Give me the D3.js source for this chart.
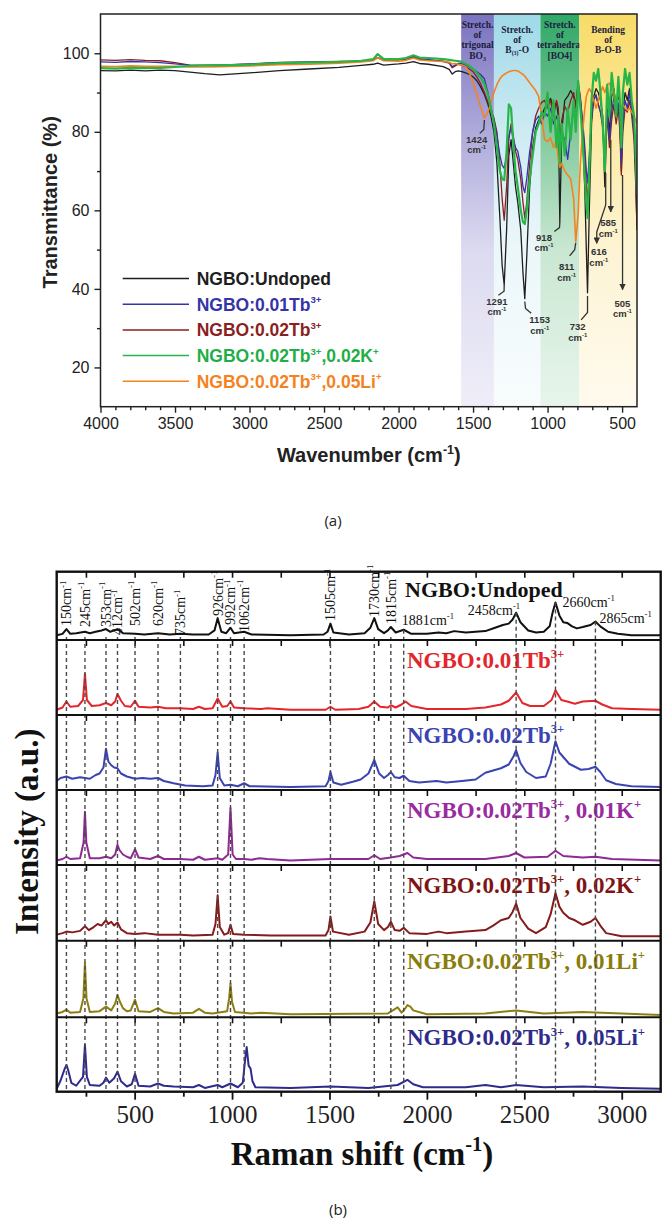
<!DOCTYPE html>
<html>
<head>
<meta charset="utf-8">
<script src="https://cdn.jsdelivr.net/npm/d3@7"></script>
<style>
  body { margin: 0; background: #fff; }
  svg { display: block; }
</style>
</head>
<body>
<div id="root"></div>
<script>
// ---------- panel (a): FTIR data ----------
const ftirWavenumbers = [
  4000, 3900, 3800, 3700, 3600, 3500, 3400, 3300, 3200, 3000, 2800, 2600, 2400, 2250, 2170, 2140, 2100,
  2000, 1950, 1900, 1860, 1800, 1700, 1660, 1640, 1620, 1600,
  1575, 1550, 1525, 1500, 1475, 1450, 1424, 1400, 1380, 1360, 1340, 1320, 1305, 1291, 1275, 1260, 1245,
  1230, 1215, 1200, 1180, 1165, 1153, 1140, 1120, 1100, 1080, 1060, 1040, 1020, 1000, 980, 960, 940, 928,
  918, 905, 885, 865, 845, 825, 811, 795, 780, 765, 750, 740, 732, 720, 705, 690, 675, 660, 645, 630, 616,
  600, 585, 570, 555, 540, 525, 515, 505, 495, 480, 465, 450, 435, 420, 410, 400,
];
const ftirUndoped = [
  95.6, 95.5, 95.7, 95.5, 95.7, 95.6, 95.2, 94.8, 94.5, 95.0, 95.6, 96.0, 96.4, 96.9, 97.2, 97.5, 97.0,
  97.3, 97.5, 97.9, 97.4, 97.2, 96.6, 95.9, 94.7, 95.3, 95.5,
  95.3, 95.0, 94.6, 94.0, 93.0, 91.5, 89.5, 87.0, 84.0, 80.0, 72, 58, 46, 41, 55, 74, 78,
  72, 66, 62, 55, 44, 37.5, 48, 66, 76, 81, 83, 84, 86, 87, 88.5, 86, 87.5, 84,
  57, 80, 88, 89, 90.5, 89, 87, 92, 88, 80, 65, 50, 39, 60, 82, 89, 91, 90, 88, 84, 66,
  86, 80, 89, 91, 86, 90, 84, 70, 85, 90, 88, 91, 87, 82, 70, 55,
];
const ftirTb001 = [
  97.8, 97.7, 97.9, 97.8, 97.6, 97.3, 96.9, 96.9, 97.0, 97.2, 97.6, 97.7, 97.8, 98.0, 98.3, 98.9, 98.2,
  98.3, 98.6, 99.3, 98.6, 98.4, 98.0, 97.6, 96.6, 97.0, 97.4,
  97.4, 97.0, 96.6, 96.0, 95.3, 94.6, 93.5, 90, 86, 83, 79, 74, 71.5, 70.7, 74, 79, 81,
  78, 76, 75, 71, 66, 64.5, 68, 75, 80, 83, 84, 82, 85, 84, 86, 82, 84, 82,
  79, 80, 78, 73, 80, 86, 84, 90, 88, 83, 76, 70, 67, 74, 84, 88, 89.5, 87, 85, 82, 74,
  85, 78, 85, 89, 84, 88, 82, 72, 82, 88, 86, 90, 85, 80, 72, 60,
];
const ftirTb002 = [
  98.3, 98.2, 98.4, 98.2, 98.1, 97.6, 97.0, 96.9, 97.0, 97.3, 97.7, 97.8, 97.9, 98.0, 98.3, 98.9, 98.3,
  98.3, 98.5, 99.0, 98.5, 98.3, 97.9, 97.5, 96.3, 96.8, 97.2,
  97.0, 96.5, 96.0, 95.3, 94.0, 92.3, 90.0, 87.5, 85.5, 83.5, 80, 72, 63, 57.5, 66, 78, 82,
  79, 75, 73, 68, 62, 58, 62, 72, 80, 84, 86, 87.5, 88, 86, 88, 84, 88, 86,
  78, 83, 86.5, 85, 88, 90, 86, 92.5, 89, 82, 74, 66, 62, 72, 85, 88.5, 89, 87, 85, 81, 72,
  84, 76, 83, 87, 82, 86, 80, 69, 80, 86, 85, 88, 84, 78, 68, 56,
];
const ftirTbK = [
  96.2, 96.1, 96.3, 96.2, 96.3, 96.5, 96.8, 96.9, 96.9, 97.1, 97.5, 97.6, 97.8, 98.1, 98.5, 99.8, 98.5,
  98.5, 98.8, 99.5, 98.9, 98.8, 98.5, 98.3, 98.2, 98.1, 98.0,
  97.8, 97.3, 96.8, 96.0, 95.0, 93.8, 92.2, 89.5, 86, 82, 76, 70, 68, 67.7, 75, 87, 86,
  77, 70, 66, 60, 57, 56.5, 60, 68, 74, 80, 82, 85, 84, 90, 80, 88, 76, 84,
  72, 82, 74, 86, 78, 88, 80, 93, 86, 78, 68, 62, 58, 70, 88, 95, 93, 96, 90, 82, 70,
  92, 84, 95, 90, 84, 94, 88, 76, 90, 96, 92, 95, 88, 84, 76, 64,
];
const ftirTbLi = [
  96.7, 96.6, 96.8, 96.7, 96.7, 96.7, 96.5, 96.5, 96.6, 96.8, 97.1, 97.2, 97.5, 97.8, 98.1, 98.9, 98.1,
  98.0, 98.2, 98.8, 98.3, 98.1, 97.9, 97.7, 97.3, 97.4, 97.2,
  97.0, 96.6, 95.0, 92.5, 89.5, 86.5, 83.5, 85, 87.5, 90, 92, 93.5, 94.2, 94.6, 95, 95.3, 95.5,
  95.6, 95.6, 95.5, 95, 94.6, 94.2, 93.5, 92.5, 91.5, 90.5, 89, 84, 78, 77.5, 78.5, 76, 78, 73,
  71, 72, 70, 69, 68, 63, 52, 59, 72, 80, 86, 89, 90, 91, 90, 88, 86, 88, 90, 91.5, 90,
  92, 92.4, 91, 89, 88, 88, 87, 86, 87, 86, 85.5, 86, 85, 84, 83, 82,
];
const ftirNames = [
  'NGBO:Undoped', 'NGBO:0.01Tb^{3+}', 'NGBO:0.02Tb^{3+}',
  'NGBO:0.02Tb^{3+},0.02K^{+}', 'NGBO:0.02Tb^{3+},0.05Li^{+}',
];
const ftirXTicks = [4000, 3500, 3000, 2500, 2000, 1500, 1000, 500];
const ftirYTicks = [20, 40, 60, 80, 100];
const bandEdges = [1580, 1360, 1048, 787, 400];
const bandTitles = [
  ['Stretch.', 'of', 'trigonal', 'BO_{3}'],
  ['Stretch.', 'of', 'B_{(3)}-O'],
  ['Stretch.', 'of', 'tetrahedral', '[BO4]'],
  ['Bending', 'of', 'B-O-B'],
];
const ftirPeaks = [1424, 1291, 1153, 918, 811, 732, 616, 585, 505];

// ---------- panel (b): Raman data ----------
const ramanNames = [
  'NGBO:Undoped', 'NGBO:0.01Tb^{3+}', 'NGBO:0.02Tb^{3+}', 'NGBO:0.02Tb^{3+}, 0.01K^{+}',
  'NGBO:0.02Tb^{3+}, 0.02K^{+}', 'NGBO:0.02Tb^{3+}, 0.01Li^{+}', 'NGBO:0.02Tb^{3+}, 0.05Li^{+}',
];
const ramanUndoped = [[100,7],[130,9],[150,16],[170,9],[200,10],[245,12],[270,10],[300,12],[330,14],[353,16],[375,12],[412,16],[440,10],[502,9],[550,8],[620,10],[680,8],[735,9],[800,8],[880,8],[910,14],[926,32],[945,12],[970,10],[992,18],[1010,10],[1062,12],[1100,8],[1300,7],[1470,8],[1490,12],[1505,24],[1520,11],[1600,8],[1680,10],[1710,18],[1730,32],[1750,16],[1780,10],[1800,14],[1815,19],[1840,11],[1881,15],[1920,9],[2000,9],[2060,11],[2100,10],[2140,13],[2200,11],[2300,13],[2350,18],[2390,22],[2420,24],[2440,30],[2458,40],[2480,26],[2520,14],[2560,11],[2600,12],[2630,20],[2645,40],[2660,55],[2680,36],[2700,26],[2720,25],[2745,20],[2770,17],[2800,19],[2840,22],[2865,27],[2890,20],[2930,12],[2980,9],[3050,7],[3200,7]];
const ramanTb001 = [[100,7],[130,10],[150,18],[170,11],[210,12],[235,20],[245,55],[255,20],[280,12],[320,13],[353,16],[380,13],[400,18],[412,28],[430,19],[450,12],[480,11],[502,19],[520,11],[580,10],[620,11],[660,9],[735,9],[800,8],[830,11],[860,8],[900,9],[926,22],[950,11],[975,12],[992,18],[1010,10],[1062,9],[1150,8],[1180,9],[1300,7],[1480,7],[1505,11],[1530,7],[1650,8],[1700,11],[1730,18],[1760,11],[1800,10],[1815,13],[1840,10],[1870,14],[1890,18],[1920,12],[2000,8],[2200,8],[2300,10],[2380,14],[2420,19],[2458,30],[2490,16],[2530,12],[2600,12],[2640,20],[2660,33],[2690,20],[2720,18],[2760,15],[2800,18],[2865,19],[2900,14],[2950,9],[3050,8],[3200,7]];
const ramanTb002 = [[100,12],[120,16],[150,18],[180,15],[220,17],[245,16],[270,15],[300,20],[320,22],[340,30],[353,55],[365,38],[380,33],[395,30],[412,29],[430,22],[460,18],[502,15],[540,16],[580,15],[620,16],[650,12],[700,9],[760,6],[850,5],[900,6],[915,20],[926,50],[937,16],[960,6],[992,7],[1030,5],[1062,9],[1090,5],[1300,4],[1480,5],[1495,12],[1505,24],[1520,10],[1560,7],[1620,11],[1660,14],[1700,22],[1730,40],[1755,22],[1780,16],[1800,20],[1815,24],[1835,17],[1860,16],[1881,19],[1910,12],[1960,10],[2050,12],[2100,10],[2180,12],[2250,14],[2300,23],[2340,26],[2380,29],[2420,34],[2445,45],[2458,53],[2480,36],[2510,24],[2560,16],[2610,18],[2635,35],[2660,65],[2680,50],[2700,44],[2730,35],[2760,31],[2790,27],[2830,28],[2865,31],[2890,24],[2920,13],[2970,8],[3050,5],[3200,4]];
const ramanTbK001 = [[100,6],[130,8],[150,11],[170,8],[220,9],[238,30],[245,71],[252,30],[270,9],[320,9],[353,11],[380,9],[400,14],[412,27],[422,20],[440,14],[460,11],[480,9],[502,21],[520,10],[580,8],[620,12],[650,8],[735,8],[800,7],[830,11],[860,7],[926,9],[950,7],[980,14],[992,76],[1003,14],[1020,8],[1062,8],[1100,7],[1140,9],[1180,8],[1300,6],[1505,8],[1700,8],[1730,13],[1760,8],[1815,10],[1860,12],[1900,16],[1930,10],[2000,8],[2300,8],[2420,12],[2458,16],[2500,10],[2620,11],[2660,19],[2700,12],[2800,10],[2865,11],[2950,8],[3200,6]];
const ramanTbK002 = [[100,8],[130,10],[150,12],[180,11],[220,13],[245,19],[265,14],[290,18],[310,22],[330,20],[353,27],[365,22],[380,25],[395,20],[412,24],[430,15],[460,10],[502,9],[550,10],[620,8],[700,8],[735,8],[800,7],[900,8],[915,22],[926,60],[937,18],[960,8],[980,10],[992,21],[1005,9],[1062,8],[1200,7],[1480,7],[1495,14],[1505,32],[1518,12],[1600,8],[1680,12],[1710,24],[1730,52],[1750,22],[1780,14],[1800,18],[1815,25],[1835,14],[1860,13],[1881,17],[1910,10],[2000,9],[2060,12],[2100,10],[2200,12],[2300,14],[2340,20],[2380,27],[2420,30],[2440,38],[2458,49],[2480,30],[2520,16],[2560,10],[2610,18],[2635,35],[2660,63],[2680,45],[2700,37],[2730,30],[2760,27],[2800,21],[2840,25],[2865,30],[2890,20],[2920,10],[3000,6],[3200,6]];
const ramanTbLi001 = [[100,5],[130,7],[150,10],[170,6],[220,7],[237,25],[245,71],[253,25],[270,7],[320,8],[353,14],[380,9],[400,18],[412,29],[425,20],[440,12],[460,8],[480,9],[502,23],[520,8],[580,7],[620,12],[650,7],[700,5],[800,6],[830,11],[860,6],[900,5],[975,8],[985,25],[992,44],[1000,20],[1015,7],[1100,5],[1150,6],[1300,4],[1800,5],[1850,13],[1870,6],[1890,12],[1900,16],[1915,14],[1930,9],[2000,4],[2300,5],[2458,9],[2600,5],[2800,7],[3200,3]];
const ramanTbLi005 = [[100,4],[120,15],[140,30],[150,36],[160,28],[175,12],[200,8],[235,20],[245,63],[255,20],[270,9],[320,8],[340,12],[353,19],[370,12],[395,18],[412,27],[430,14],[460,7],[485,10],[502,24],[520,8],[580,7],[620,11],[650,8],[700,7],[800,6],[830,9],[860,5],[926,9],[950,6],[992,11],[1030,6],[1055,12],[1068,45],[1075,60],[1085,35],[1095,31],[1105,14],[1120,6],[1300,5],[1505,7],[1700,5],[1850,9],[1900,16],[1930,10],[1980,6],[2200,6],[2300,9],[2380,6],[2458,9],[2600,6],[2800,7],[3000,5],[3200,4]];
const ramanPeaks = [150, 245, 353, 412, 502, 620, 735, 926, 992, 1062, 1505, 1730, 1815, 1881, 2458, 2660, 2865];
const ramanXTicks = [500, 1000, 1500, 2000, 2500, 3000];

// ---------- styling / layout ----------
const W = 663, H = 1222;
const sans = '"Liberation Sans", Arial, sans-serif';
const serif = '"Liberation Serif", "Times New Roman", serif';
const ftirColors = ['#1e1e1e', '#3434a8', '#8a1f1f', '#27b548', '#f5821f'];
const ftirWidths = [1.3, 1.3, 1.3, 2.2, 1.6];
const ftirDrawOrder = [0, 2, 1, 4, 3];
const bandStops = [
  [[0, '#7a73bf'], [0.3, '#aeaadb'], [0.6, '#dcdaf0'], [1, '#efeef8']],
  [[0, '#9fd9e7'], [0.3, '#cdebf3'], [0.6, '#ecf7fa'], [1, '#f8fcfd']],
  [[0, '#2fa866'], [0.3, '#82c99c'], [0.6, '#c9e7d2'], [1, '#e8f5ec']],
  [[0, '#f8db66'], [0.3, '#fbeaa3'], [0.6, '#fdf4d4'], [1, '#fffaee']],
];
// annotation layout (label anchor + leader path, in data units)
const ftirAnnotLayout = {
  1424: { at: [1476, 77.2], leader: [[1424, 83], [1428, 80.6], [1455, 79.6]] },
  1291: { at: [1340, 36.0], leader: [[1291, 41], [1292, 39.4], [1330, 38.4]] },
  1153: { at: [1053, 31.3], leader: [[1153, 36.8], [1148, 35], [1110, 33.8]] },
  918: { at: [1024, 52.2], leader: [[918, 57], [920, 55.6], [955, 54.6]] },
  811: { at: [872, 44.8], leader: [[811, 51.7], [818, 50], [852, 48.4]] },
  732: { at: [798, 29.5], leader: [[732, 38.2], [732, 34], [775, 32.1]] },
  616: { at: [656, 48.6], leader: [[610, 69.5], [610, 61.4], [670, 54.5], [670, 51.6]], arrow: true },
  585: { at: [593, 56.0], leader: [[576, 78], [576, 59.6]], arrow: true },
  505: { at: [498, 35.4], leader: [[497, 69], [497, 39.8]], arrow: true },
};
const ramanColors = ['#111111', '#e3262b', '#3a43b2', '#8f2a94', '#851b1b', '#8c7f10', '#2e2b8c'];
const ramanLabelColors = ['#111111', '#e3262b', '#3a43b2', '#9a2aa0', '#7f1414', '#8a7c0c', '#2e2b8c'];
const panelEdges = [571.7, 640, 715, 790, 865, 940.7, 1017.3, 1091.7];
const peakLabelLayout = {
  150: { rise: 14 }, 245: { rise: 13 }, 353: { rise: 13 }, 412: { rise: 5 }, 502: { rise: 14 },
  620: { rise: 14 }, 735: { rise: 5 }, 926: { rise: 24 }, 992: { rise: 15 }, 1062: { rise: 8 },
  1505: { rise: 19 }, 1730: { rise: 23 }, 1815: { rise: 16 },
  1881: { flat: true, dx: -2, rise: 15, anchor: 'start' },
  2458: { flat: true, dx: 4, rise: 25, anchor: 'end' },
  2660: { flat: true, dx: 7, rise: 33, anchor: 'start' },
  2865: { flat: true, dx: 4, rise: 17, anchor: 'start' },
};

// text with ^{sup} and _{sub}
function rich(sel, str, fs, k = 0.62) {
  const parts = str.split(/(\^\{[^}]*\}|_\{[^}]*\})/).filter(s => s);
  let shift = 0;
  parts.forEach(p => {
    let txt = p, dy = 0, size = null;
    if (p.startsWith('^{')) { txt = p.slice(2, -1); dy = -fs * 0.42; size = fs * k; }
    else if (p.startsWith('_{')) { txt = p.slice(2, -1); dy = fs * 0.22; size = fs * k; }
    const t = sel.append('tspan').text(txt);
    if (dy - shift) t.attr('dy', dy - shift);
    if (size) t.attr('font-size', size);
    shift = dy;
  });
  return sel;
}

const svg = d3.select('#root').append('svg')
  .attr('width', W)
  .attr('height', H);
const defs = svg.append('defs');

// =============== panel (a) ===============
const plotA = { left: 100.5, right: 637, top: 14, bottom: 406.7 };
const xA = d3.scaleLinear().domain([4000, 400]).range([plotA.left, plotA.right]);
const yA = d3.scaleLinear().domain([10, 110]).range([plotA.bottom, plotA.top]);

defs.append('clipPath').attr('id', 'clipA')
  .append('rect')
  .attr('x', plotA.left).attr('y', plotA.top)
  .attr('width', plotA.right - plotA.left).attr('height', plotA.bottom - plotA.top);

// absorption band shading
bandEdges.slice(0, -1).forEach((from, i) => {
  const to = bandEdges[i + 1];
  const grad = defs.append('linearGradient').attr('id', `band${i}`)
    .attr('x1', 0).attr('x2', 0).attr('y1', 0).attr('y2', 1);
  bandStops[i].forEach(([o, c]) => grad.append('stop').attr('offset', o).attr('stop-color', c));
  svg.append('rect')
    .attr('x', xA(from)).attr('y', plotA.top)
    .attr('width', xA(to) - xA(from)).attr('height', plotA.bottom - plotA.top)
    .attr('fill', `url(#band${i})`);
  const lines = bandTitles[i];
  const y0 = lines.length === 4 ? 28 : 33;
  lines.forEach((ln, j) => {
    rich(svg.append('text')
      .attr('x', (xA(from) + xA(to)) / 2)
      .attr('y', y0 + j * 10.2)
      .attr('text-anchor', 'middle')
      .attr('font-family', serif)
      .attr('font-weight', 'bold')
      .attr('font-size', 9.5)
      .attr('fill', '#1c1c40'), ln, 9.5);
  });
});

// spectra
const ftirSeries = [ftirUndoped, ftirTb001, ftirTb002, ftirTbK, ftirTbLi];
const lineA = d3.line()
  .x((d, i) => xA(ftirWavenumbers[i]))
  .y(d => yA(d));
const curvesA = svg.append('g').attr('clip-path', 'url(#clipA)');
ftirDrawOrder.forEach(k => {
  curvesA.append('path')
    .datum(ftirSeries[k])
    .attr('d', lineA)
    .attr('fill', 'none')
    .attr('stroke', ftirColors[k])
    .attr('stroke-width', ftirWidths[k])
    .attr('stroke-linejoin', 'round');
});

// peak annotations
defs.append('marker').attr('id', 'arrow')
  .attr('viewBox', '0 0 10 10').attr('refX', 9).attr('refY', 5)
  .attr('markerWidth', 5).attr('markerHeight', 5).attr('orient', 'auto')
  .append('path').attr('d', 'M0,0L10,5L0,10z').attr('fill', '#333');
const leaderLine = d3.line().x(d => xA(d[0])).y(d => yA(d[1]));
ftirPeaks.forEach(p => {
  const lay = ftirAnnotLayout[p];
  svg.append('path')
    .attr('d', leaderLine(lay.leader))
    .attr('fill', 'none')
    .attr('stroke', '#333')
    .attr('stroke-width', 1.3)
    .attr('marker-end', lay.arrow ? 'url(#arrow)' : null);
  [String(p), 'cm^{-1}'].forEach((ln, j) => {
    rich(svg.append('text')
      .attr('x', xA(lay.at[0]))
      .attr('y', yA(lay.at[1]) + j * 10.5)
      .attr('text-anchor', 'middle')
      .attr('font-family', sans)
      .attr('font-weight', 'bold')
      .attr('font-size', 9.5)
      .attr('fill', '#333'), ln, 9.5);
  });
});

// axes
function styleAxis(g, family, size) {
  g.select('.domain').remove();
  g.selectAll('.tick line').attr('stroke', '#222').attr('stroke-width', 1.4);
  g.selectAll('.tick text').attr('fill', '#222');
  g.attr('font-family', family).attr('font-size', size);
}
const minorX = d3.range(3900, 400, -100).filter(v => v % 500);
svg.append('g').attr('transform', `translate(0,${plotA.bottom})`)
  .call(d3.axisBottom(xA).tickValues(ftirXTicks).tickSize(6).tickPadding(5).tickFormat(d3.format('d')))
  .call(g => styleAxis(g, sans, 16));
svg.append('g').attr('transform', `translate(0,${plotA.bottom})`)
  .call(d3.axisBottom(xA).tickValues(minorX).tickSize(3.5).tickFormat(''))
  .call(g => styleAxis(g, sans, 16));
svg.append('g').attr('transform', `translate(${plotA.left},0)`)
  .call(d3.axisLeft(yA).tickValues(ftirYTicks).tickSize(6).tickPadding(5))
  .call(g => styleAxis(g, sans, 16));
svg.append('g').attr('transform', `translate(${plotA.left},0)`)
  .call(d3.axisLeft(yA).tickValues([30, 50, 70, 90]).tickSize(3.5).tickFormat(''))
  .call(g => styleAxis(g, sans, 16));
svg.append('rect')
  .attr('x', plotA.left).attr('y', plotA.top)
  .attr('width', plotA.right - plotA.left).attr('height', plotA.bottom - plotA.top)
  .attr('fill', 'none').attr('stroke', '#222').attr('stroke-width', 1.5);

svg.append('text')
  .attr('transform', `translate(57,${(plotA.top + plotA.bottom) / 2 - 8}) rotate(-90)`)
  .attr('text-anchor', 'middle')
  .attr('font-family', sans).attr('font-weight', 'bold').attr('font-size', 20)
  .attr('fill', '#222')
  .text('Transmittance (%)');
rich(svg.append('text')
  .attr('x', (plotA.left + plotA.right) / 2)
  .attr('y', 462)
  .attr('text-anchor', 'middle')
  .attr('font-family', sans).attr('font-weight', 'bold').attr('font-size', 20)
  .attr('fill', '#222'), 'Wavenumber (cm^{-1})', 20);

// legend
ftirNames.forEach((name, i) => {
  const cy = 278.5 + i * 25.7;
  svg.append('line')
    .attr('x1', 122.7).attr('x2', 189).attr('y1', cy).attr('y2', cy)
    .attr('stroke', ftirColors[i]).attr('stroke-width', 1.5);
  rich(svg.append('text')
    .attr('x', 196.7).attr('y', cy + 6.3)
    .attr('font-family', sans).attr('font-weight', 'bold').attr('font-size', 17.5)
    .attr('fill', ftirColors[i] === '#27b548' ? '#1fae45' : ftirColors[i]), name, 17.5, 0.55);
});

svg.append('text')
  .attr('x', 333).attr('y', 526)
  .attr('text-anchor', 'middle')
  .attr('font-family', '"Open Sans", sans-serif').attr('font-size', 15)
  .attr('fill', '#222')
  .text('(a)');

// =============== panel (b) ===============
const plotB = { left: 56.7, right: 660.7, top: panelEdges[0], bottom: panelEdges[7] };
const xB = d3.scaleLinear().domain([100, 3200]).range([plotB.left, plotB.right]);
const ramanSeries = [ramanUndoped, ramanTb001, ramanTb002, ramanTbK001, ramanTbK002, ramanTbLi001, ramanTbLi005];
const panelY = ramanSeries.map((s, i) => d3.scaleLinear().domain([0, 100]).range([panelEdges[i + 1], panelEdges[i]]));

// tick marks along the top of each stacked panel
const ramanAllTicks = d3.range(250, 3200, 250);
panelEdges.slice(0, 7).forEach(y => {
  svg.append('g').attr('transform', `translate(0,${y})`)
    .call(d3.axisBottom(xB).tickValues(ramanAllTicks).tickSize(6).tickFormat(''))
    .call(g => styleAxis(g, serif, 25))
    .selectAll('.tick line').attr('stroke', '#111').attr('stroke-width', 1.6);
});

// spectra + sample labels
ramanSeries.forEach((s, i) => {
  const y = panelY[i];
  svg.append('path')
    .datum(s)
    .attr('d', d3.line().x(d => xB(d[0])).y(d => y(d[1])))
    .attr('fill', 'none')
    .attr('stroke', ramanColors[i])
    .attr('stroke-width', 2)
    .attr('stroke-linejoin', 'round');
  const fs = i === 0 ? 22 : 23;
  rich(svg.append('text')
    .attr('x', i === 0 ? 405 : 407)
    .attr('y', panelEdges[i] + (i === 0 ? 25 : 28))
    .attr('font-family', serif).attr('font-weight', 'bold').attr('font-size', fs)
    .attr('fill', ramanLabelColors[i]), ramanNames[i], fs, 0.55);
});

// peak labels in the top panel
const p1Bottom = panelEdges[1];
ramanPeaks.forEach(p => {
  const lay = peakLabelLayout[p];
  const x = xB(p);
  const t = svg.append('text')
    .attr('font-family', serif).attr('font-size', 14).attr('fill', '#111');
  if (lay.flat) {
    t.attr('x', x + lay.dx).attr('y', p1Bottom - lay.rise).attr('text-anchor', lay.anchor);
  } else {
    t.attr('transform', `translate(${x + 5},${p1Bottom - lay.rise}) rotate(-90)`);
  }
  rich(t, `${p}cm^{-1}`, 14);
});

// dashed guide lines
ramanPeaks.forEach(p => {
  const lay = peakLabelLayout[p];
  const hit = ramanUndoped.find(d => d[0] === p);
  const y0 = lay.flat && hit ? panelY[0](hit[1]) : p1Bottom - 3;
  svg.append('line')
    .attr('x1', xB(p)).attr('x2', xB(p))
    .attr('y1', y0).attr('y2', plotB.bottom)
    .attr('stroke', '#4a4a4a').attr('stroke-width', 1.4)
    .attr('stroke-dasharray', '4,3');
});

// frame and dividers
panelEdges.slice(1, 7).forEach(y => {
  svg.append('line')
    .attr('x1', plotB.left).attr('x2', plotB.right).attr('y1', y).attr('y2', y)
    .attr('stroke', '#111').attr('stroke-width', 2);
});
svg.append('rect')
  .attr('x', plotB.left).attr('y', plotB.top)
  .attr('width', plotB.right - plotB.left).attr('height', plotB.bottom - plotB.top)
  .attr('fill', 'none').attr('stroke', '#111').attr('stroke-width', 2.4);

// bottom axis
svg.append('g').attr('transform', `translate(0,${plotB.bottom})`)
  .call(d3.axisBottom(xB).tickValues(ramanXTicks).tickSize(8).tickPadding(6).tickFormat(d3.format('d')))
  .call(g => styleAxis(g, serif, 25))
  .call(g => g.selectAll('.tick line').attr('stroke', '#111').attr('stroke-width', 1.8));
svg.append('g').attr('transform', `translate(0,${plotB.bottom})`)
  .call(d3.axisBottom(xB).tickValues(ramanAllTicks.filter(v => v % 500)).tickSize(5).tickFormat(''))
  .call(g => styleAxis(g, serif, 25))
  .call(g => g.selectAll('.tick line').attr('stroke', '#111').attr('stroke-width', 1.8));

svg.append('text')
  .attr('transform', `translate(38,${(plotB.top + plotB.bottom) / 2}) rotate(-90)`)
  .attr('text-anchor', 'middle')
  .attr('font-family', serif).attr('font-weight', 'bold').attr('font-size', 33)
  .attr('fill', '#111')
  .text('Intensity (a.u.)');
rich(svg.append('text')
  .attr('x', 362).attr('y', 1165)
  .attr('text-anchor', 'middle')
  .attr('font-family', serif).attr('font-weight', 'bold').attr('font-size', 33)
  .attr('fill', '#111'), 'Raman shift (cm^{-1})', 33);

svg.append('text')
  .attr('x', 338).attr('y', 1215)
  .attr('text-anchor', 'middle')
  .attr('font-family', '"Open Sans", sans-serif').attr('font-size', 15)
  .attr('fill', '#222')
  .text('(b)');
</script>
</body>
</html>
